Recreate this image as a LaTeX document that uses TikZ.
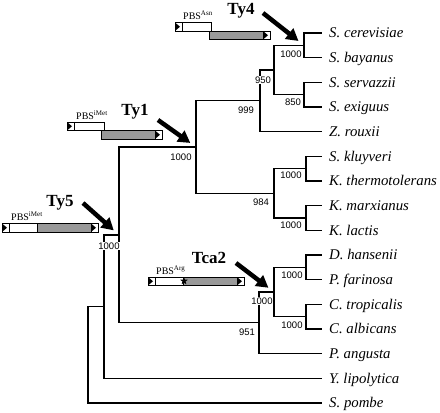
\documentclass[tikz,border=0pt]{standalone}
\usepackage{fontspec}
\setmainfont{Liberation Serif}
\newfontfamily\bootfont{Liberation Sans}
\usetikzlibrary{arrows.meta,shapes.geometric}

\tikzset{
  branch/.style={line width=1.2pt},
  leaf/.style={anchor=west, inner xsep=7pt, inner ysep=0pt, text height=9.8pt, text depth=0pt,
    font=\fontsize{14.8}{16}\selectfont\itshape},
  boot/.style={fill=white, inner sep=0.6pt, font=\bootfont\fontsize{9.5}{10}\selectfont},
  elname/.style={anchor=base, inner sep=0pt, font=\fontsize{17}{18}\selectfont\bfseries},
  pbs/.style={anchor=base west, inner sep=0pt, font=\fontsize{10}{11}\selectfont},
  hit/.style={line width=4.5pt, -{Triangle[length=12pt,width=13pt]}, shorten >=7pt},
  ltrbox/.style={draw, line width=0.6pt, fill=white},
  orfbox/.style={draw, line width=0.6pt, fill=black!40},
}

% long terminal repeat: box with black triangle, top left corner at (#1,#2)
\newcommand{\ltrend}[2]{%
  \draw[ltrbox] (#1,#2) rectangle ++(7,8.5);
  \fill (#1,#2) -- ++(0,8.5) -- ++(5,-4.25) -- cycle;
}

\begin{document}
\begin{tikzpicture}[x=1pt,y=-1pt]
  \useasboundingbox (0,0) rectangle (440,413);

  % Species
  \node[leaf] (scer) at (322,33.0) {S. cerevisiae};
  \node[leaf] (sbay) at (322,57.7) {S. bayanus};
  \node[leaf] (sser) at (322,82.3) {S. servazzii};
  \node[leaf] (sexi) at (322,107.0) {S. exiguus};
  \node[leaf] (zrou) at (322,131.7) {Z. rouxii};
  \node[leaf] (sklu) at (322,156.3) {S. kluyveri};
  \node[leaf] (kthe) at (322,181.0) {K. thermotolerans};
  \node[leaf] (kmar) at (322,205.7) {K. marxianus};
  \node[leaf] (klac) at (322,230.3) {K. lactis};
  \node[leaf] (dhan) at (322,255.0) {D. hansenii};
  \node[leaf] (pfar) at (322,279.7) {P. farinosa};
  \node[leaf] (ctro) at (322,304.3) {C. tropicalis};
  \node[leaf] (calb) at (322,329.0) {C. albicans};
  \node[leaf] (pang) at (322,353.7) {P. angusta};
  \node[leaf] (ylip) at (322,378.3) {Y. lipolytica};
  \node[leaf] (spom) at (322,403.0) {S. pombe};

  % Internal nodes
  \coordinate (cb) at (304,45.3);
  \coordinate (se) at (304,94.7);
  \coordinate (sens) at (274,70);
  \coordinate (zyg) at (260,100.8);
  \coordinate (skt) at (306,168.7);
  \coordinate (kml) at (306,218);
  \coordinate (kluy) at (274,193.3);
  \coordinate (saccho) at (196,147);
  \coordinate (dp) at (306,267.3);
  \coordinate (cc) at (306,316.7);
  \coordinate (ctg) at (274,292);
  \coordinate (pich) at (259,322.8);
  \coordinate (asco) at (119,235);
  \coordinate (yar) at (104,306.7);
  \coordinate (root) at (88,354.8);

  % Branches
  \draw[branch] (cb) |- (scer.west) (cb) |- (sbay.west);
  \draw[branch] (se) |- (sser.west) (se) |- (sexi.west);
  \draw[branch] (sens) |- (cb) (sens) |- (se);
  \draw[branch] (zyg) |- (sens) (zyg) |- (zrou.west);
  \draw[branch] (skt) |- (sklu.west) (skt) |- (kthe.west);
  \draw[branch] (kml) |- (kmar.west) (kml) |- (klac.west);
  \draw[branch] (kluy) |- (skt) (kluy) |- (kml);
  \draw[branch] (saccho) |- (zyg) (saccho) |- (kluy);
  \draw[branch] (dp) |- (dhan.west) (dp) |- (pfar.west);
  \draw[branch] (cc) |- (ctro.west) (cc) |- (calb.west);
  \draw[branch] (ctg) |- (dp) (ctg) |- (cc);
  \draw[branch] (pich) |- (ctg) (pich) |- (pang.west);
  \draw[branch] (asco) |- (saccho) (asco) |- (pich);
  \draw[branch] (yar) |- (asco) (yar) |- (ylip.west);
  \draw[branch] (root) |- (yar) (root) |- (spom.west);

  % Bootstrap values
  \node[boot] (bcb) at (291,54) {1000};
  \node[boot] (bse) at (293,102) {850};
  \node[boot] (bsens) at (263,80) {950};
  \node[boot] (bzyg) at (246,110) {999};
  \node[boot] (bskt) at (291,175) {1000};
  \node[boot] (bkml) at (291,225) {1000};
  \node[boot] (bkluy) at (261,202) {984};
  \node[boot] (bsaccho) at (181,157) {1000};
  \node[boot] (bdp) at (292,275) {1000};
  \node[boot] (bcc) at (292,325) {1000};
  \node[boot] (bctg) at (262,301) {1000};
  \node[boot] (bpich) at (247,332) {951};
  \node[boot] (basco) at (109,246) {1000};

  % Ty4
  \ltrend{175}{22.5}
  \draw[ltrbox] (182,22.5) rectangle (211,31);
  \draw[orfbox] (209,31) rectangle (263,39.5);
  \ltrend{263}{31}
  \node[pbs] (pbsty4) at (183,19.5) {PBS\textsuperscript{Asn}};
  \node[elname] (ty4) at (241,14) {Ty4};
  \coordinate (ty4tail) at (263,13);
  \draw[hit] (ty4tail) -- (cb);

  % Ty1
  \ltrend{67}{122}
  \draw[ltrbox] (74,122) rectangle (104,130.5);
  \draw[orfbox] (101,130.5) rectangle (155,139);
  \ltrend{155}{130.5}
  \node[pbs] (pbsty1) at (76,119) {PBS\textsuperscript{iMet}};
  \node[elname] (ty1) at (135,115) {Ty1};
  \coordinate (ty1tail) at (158,120);
  \draw[hit] (ty1tail) -- (saccho);

  % Ty5
  \ltrend{2}{223.5}
  \draw[ltrbox] (9,223.5) rectangle (37,232);
  \draw[orfbox] (37,223.5) rectangle (91,232);
  \ltrend{91}{223.5}
  \node[pbs] (pbsty5) at (11,220) {PBS\textsuperscript{iMet}};
  \node[elname] (ty5) at (60,206) {Ty5};
  \coordinate (ty5tail) at (83,203);
  \draw[hit] (ty5tail) -- (asco);

  % Tca2
  \ltrend{148}{277}
  \draw[ltrbox] (155,277) rectangle (183,285.5);
  \draw[orfbox] (183,277) rectangle (237,285.5);
  \ltrend{237}{277}
  \node[star, star points=5, star point ratio=2.4, fill, inner sep=0pt, minimum size=8pt] (stop) at (184,281) {};
  \node[pbs] (pbstca2) at (156,274) {PBS\textsuperscript{Arg}};
  \node[elname] (tca2) at (209,263) {Tca2};
  \coordinate (tca2tail) at (236,263);
  \draw[hit] (tca2tail) -- (ctg);
\end{tikzpicture}
\end{document}
